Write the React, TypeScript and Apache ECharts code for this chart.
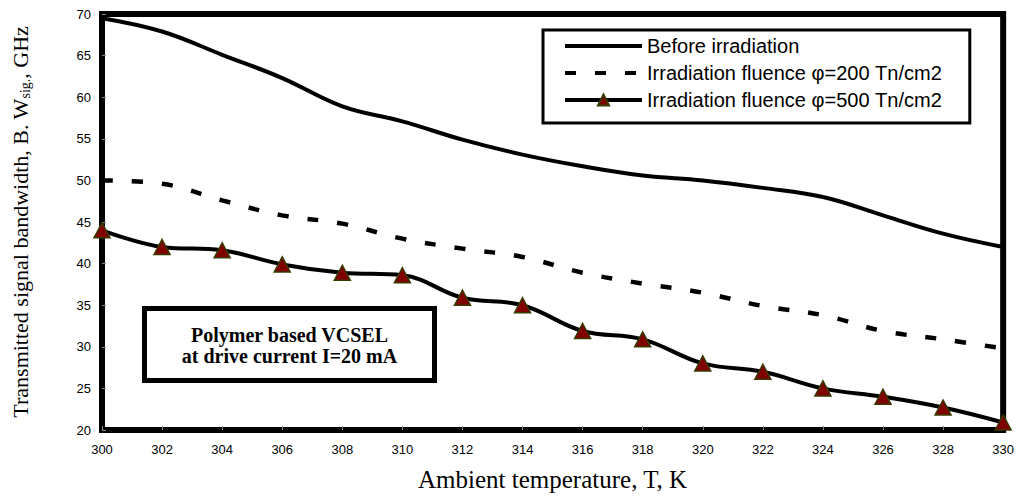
import React, { useEffect, useRef } from "react";
import * as echarts from "echarts";

const temps = [300, 302, 304, 306, 308, 310, 312, 314, 316, 318, 320, 322, 324, 326, 328, 330];
const beforeIrr = [69.5, 67.9, 65.1, 62.3, 58.9, 57.1, 54.9, 53.1, 51.7, 50.6, 50.0, 49.1, 48.0, 45.8, 43.6, 42.0];
const fluence200 = [50.0, 49.6, 47.6, 45.8, 44.8, 43.0, 41.8, 40.8, 38.9, 37.6, 36.5, 34.9, 33.8, 31.9, 30.9, 29.8];
const fluence500 = [44.0, 42.0, 41.6, 39.9, 38.9, 38.6, 35.9, 35.0, 31.9, 30.9, 28.0, 27.0, 25.0, 24.0, 22.7, 20.9];

const seriesNames = [
  "Before irradiation",
  "Irradiation fluence φ=200 Tn/cm2",
  "Irradiation fluence φ=500 Tn/cm2",
];
const xTitle = "Ambient temperature, T, K";
const yTitle = "Transmitted signal bandwidth, B. W{sub|sig.}, GHz";
const noteLines = ["Polymer based VCSEL", "at drive current I=20 mA"];

const pairs = (ys: number[]) => temps.map((t, i) => [t, ys[i]]);

export default function App() {
  const ref = useRef<HTMLDivElement>(null);
  useEffect(() => {
    document.body.style.margin = "0";
    const chart = echarts.init(ref.current!, null, { renderer: "svg" });
    const sans = "Liberation Sans, Arial, sans-serif";
    const serif = "Liberation Serif, Times New Roman, serif";
    chart.setOption({
      animation: false,
      backgroundColor: "#fff",
      grid: {
        left: 102,
        right: 12,
        top: 14,
        bottom: 74,
        show: true,
        borderColor: "#000",
        borderWidth: 6,
        backgroundColor: "transparent",
      },
      xAxis: {
        type: "value",
        min: 300,
        max: 330,
        interval: 2,
        name: xTitle,
        nameLocation: "middle",
        nameGap: 37,
        nameTextStyle: { fontFamily: serif, fontSize: 25, color: "#000" },
        axisLine: { show: false },
        axisTick: { show: true, inside: true, length: 4, lineStyle: { color: "#888", width: 1 } },
        axisLabel: { fontFamily: sans, fontSize: 13, color: "#000", margin: 13 },
        splitLine: { show: false },
      },
      yAxis: {
        type: "value",
        min: 20,
        max: 70,
        interval: 5,
        name: yTitle,
        nameLocation: "middle",
        nameGap: 70,
        nameRotate: 90,
        nameTextStyle: {
          fontFamily: serif,
          fontSize: 22,
          color: "#000",
          lineHeight: 24,
          rich: {
            sub: { fontFamily: serif, fontSize: 14, color: "#000", verticalAlign: "bottom", lineHeight: 24 },
          },
        },
        axisLine: { show: false },
        axisTick: { show: true, inside: true, length: 4, lineStyle: { color: "#888", width: 1 } },
        axisLabel: { fontFamily: sans, fontSize: 13, color: "#000", margin: 11 },
        splitLine: { show: false },
      },
      legend: {
        orient: "vertical",
        left: 543,
        top: 30,
        padding: [6, 28, 13, 20],
        itemGap: 7,
        itemWidth: 77,
        itemHeight: 14,
        backgroundColor: "#fff",
        borderColor: "#000",
        borderWidth: 3,
        borderRadius: 0,
        lineStyle: { width: 4 },
        textStyle: { fontFamily: sans, fontSize: 20, color: "#000" },
        data: [
          { name: seriesNames[0], itemStyle: { opacity: 0 } },
          { name: seriesNames[1], itemStyle: { opacity: 0 } },
          { name: seriesNames[2] },
        ],
      },
      series: [
        {
          name: seriesNames[0],
          type: "line",
          data: pairs(beforeIrr),
          smooth: 0.4,
          symbol: "none",
          lineStyle: { color: "#000", width: 4 },
          itemStyle: { color: "#000", opacity: 0 },
        },
        {
          name: seriesNames[1],
          type: "line",
          data: pairs(fluence200),
          smooth: 0.4,
          symbol: "none",
          lineStyle: { color: "#000", width: 4.5, type: [11, 19] },
          itemStyle: { color: "#000", opacity: 0 },
        },
        {
          name: seriesNames[2],
          type: "line",
          data: pairs(fluence500),
          smooth: 0.4,
          symbol: "triangle",
          symbolSize: [16, 15],
          clip: false,
          lineStyle: { color: "#000", width: 4 },
          itemStyle: { color: "#800000", borderColor: "#3a3a00", borderWidth: 1.5 },
        },
      ],
      graphic: [
        {
          type: "group",
          left: 142,
          top: 306,
          children: [
            {
              type: "rect",
              shape: { x: 0, y: 0, width: 290, height: 72 },
              style: { fill: "#fff", stroke: "#000", lineWidth: 5 },
            },
            {
              type: "text",
              x: 145,
              y: 37,
              style: {
                text: noteLines.join("\n"),
                font: "bold 20px " + serif,
                fill: "#000",
                textAlign: "center",
                textVerticalAlign: "middle",
                lineHeight: 21,
              },
            },
          ],
        },
      ],
    });
    return () => chart.dispose();
  }, []);
  return <div ref={ref} style={{ width: 1017, height: 504 }} />;
}
